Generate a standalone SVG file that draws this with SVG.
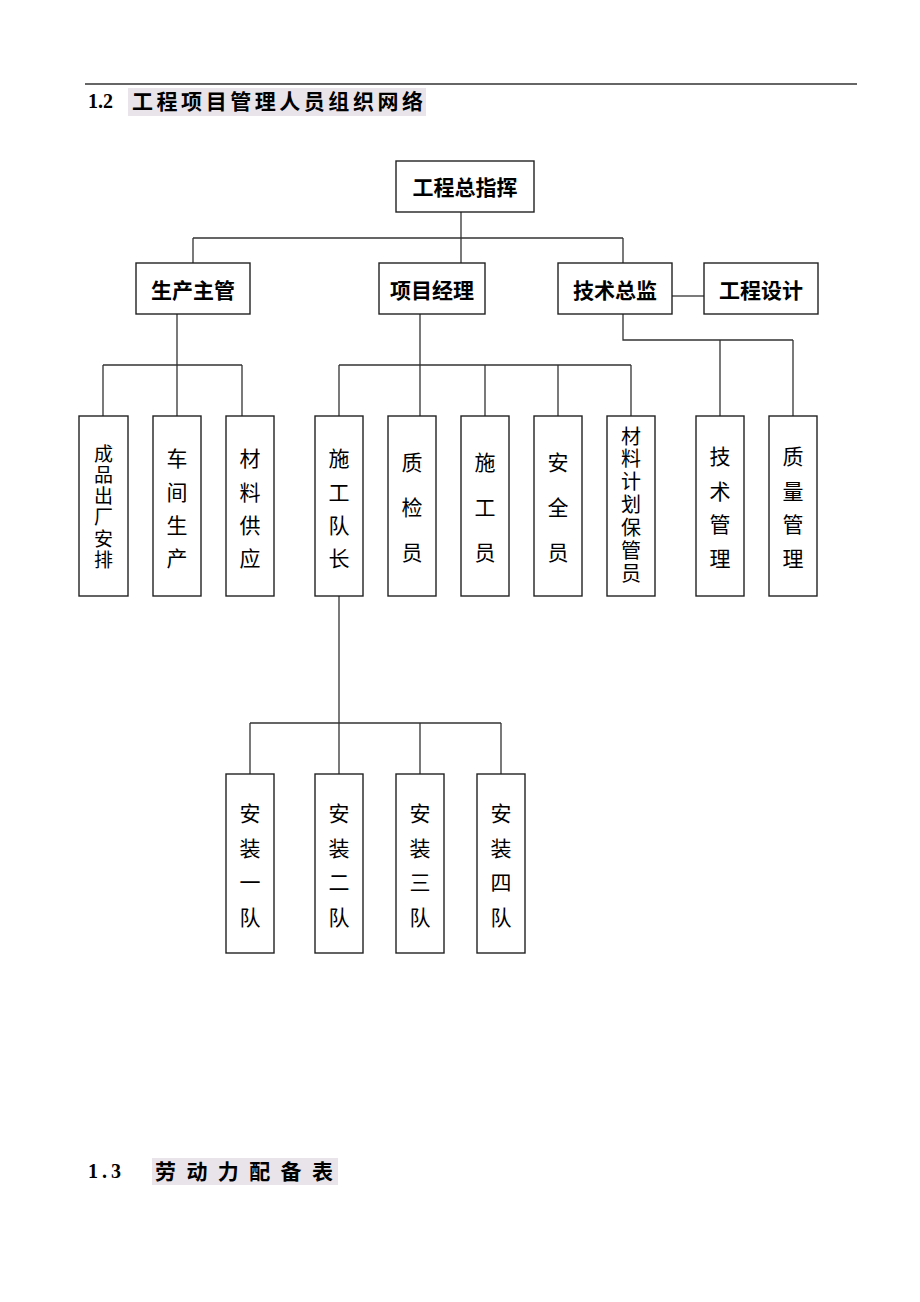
<svg xmlns="http://www.w3.org/2000/svg" width="920" height="1302" viewBox="0 0 920 1302">
<style>
.box{fill:#fff;stroke:#222;stroke-width:1.4}
.ln{fill:none;stroke:#333;stroke-width:1.3}
.h{font-family:"Noto Sans CJK SC","Noto Sans",sans-serif;font-weight:bold;font-size:21px;fill:#000;text-anchor:middle;dominant-baseline:central}
.v{font-family:"Noto Sans CJK SC","Noto Sans",sans-serif;font-size:21px;fill:#000;text-anchor:middle;dominant-baseline:central}
.vt{font-family:"Noto Sans CJK SC","Noto Sans",sans-serif;fill:#000;writing-mode:vertical-rl;text-orientation:upright}
.num{font-family:"Liberation Serif",serif;font-weight:bold;font-size:20px;fill:#000}
.ttl{font-family:"Noto Sans CJK SC",sans-serif;font-weight:bold;font-size:21px;fill:#000}
.hl{fill:#e9e4ea}
</style>
<rect width="920" height="1302" fill="#fff"/>
<line x1="85" y1="84" x2="857" y2="84" stroke="#333" stroke-width="1.5"/>
<g id="heading-1-2">
<rect class="hl" x="128" y="88" width="298" height="28"/>
<text class="num" x="88" y="108">1.2</text>
<text class="ttl" x="132" y="109" textLength="291" lengthAdjust="spacing">工程项目管理人员组织网络</text>
</g>
<g id="connectors">
<path class="ln" d="M461 212V263M193 238H623M193 238V263M623 238V263"/>
<path class="ln" d="M672 296H704"/>
<path class="ln" d="M177 314V365M103 365H242M103 365V416M177 365V416M242 365V416"/>
<path class="ln" d="M420 314V365M339 365H631M339 365V416M420 365V416M485 365V416M558 365V416M631 365V416"/>
<path class="ln" d="M623 314V340H793M720 340V416M793 340V416"/>
<path class="ln" d="M339 596V774M250 723H501M250 723V774M420 723V774M501 723V774"/>
</g>
<g id="n-zongzhihui"><rect class="box" x="396" y="161" width="138" height="51"/><text class="h" x="465" y="186">工程总指挥</text></g>
<g id="n-shengchan"><rect class="box" x="136" y="263" width="114" height="51"/><text class="h" x="193" y="289">生产主管</text></g>
<g id="n-xiangmu"><rect class="box" x="379" y="263" width="106" height="51"/><text class="h" x="432" y="289">项目经理</text></g>
<g id="n-jishu"><rect class="box" x="558" y="263" width="114" height="51"/><text class="h" x="615" y="289">技术总监</text></g>
<g id="n-sheji"><rect class="box" x="704" y="263" width="114" height="51"/><text class="h" x="761" y="289">工程设计</text></g>

<g id="n-chengpin"><rect class="box" x="79" y="416" width="49" height="180"/><text class="vt" x="103.5" y="444" font-size="19" letter-spacing="2.2">成品出厂安排</text></g>
<g id="n-chejian"><rect class="box" x="153" y="416" width="48" height="180"/><text class="v"><tspan x="177" y="457">车</tspan><tspan x="177" y="491">间</tspan><tspan x="177" y="524">生</tspan><tspan x="177" y="557">产</tspan></text></g>
<g id="n-cailiao"><rect class="box" x="226" y="416" width="48" height="180"/><text class="v"><tspan x="250" y="457">材</tspan><tspan x="250" y="491">料</tspan><tspan x="250" y="524">供</tspan><tspan x="250" y="557">应</tspan></text></g>
<g id="n-duizhang"><rect class="box" x="315" y="416" width="48" height="180"/><text class="v"><tspan x="339" y="457">施</tspan><tspan x="339" y="491">工</tspan><tspan x="339" y="524">队</tspan><tspan x="339" y="557">长</tspan></text></g>
<g id="n-zhijian"><rect class="box" x="388" y="416" width="48" height="180"/><text class="v"><tspan x="412" y="461">质</tspan><tspan x="412" y="506">检</tspan><tspan x="412" y="551">员</tspan></text></g>
<g id="n-shigong"><rect class="box" x="461" y="416" width="48" height="180"/><text class="v"><tspan x="485" y="461">施</tspan><tspan x="485" y="506">工</tspan><tspan x="485" y="551">员</tspan></text></g>
<g id="n-anquan"><rect class="box" x="534" y="416" width="48" height="180"/><text class="v"><tspan x="558" y="461">安</tspan><tspan x="558" y="506">全</tspan><tspan x="558" y="551">员</tspan></text></g>
<g id="n-baoguan"><rect class="box" x="607" y="416" width="48" height="180"/><text class="vt" x="631" y="426" font-size="20" letter-spacing="2.9">材料计划保管员</text></g>
<g id="n-jishuguanli"><rect class="box" x="696" y="416" width="48" height="180"/><text class="v"><tspan x="720" y="455">技</tspan><tspan x="720" y="490">术</tspan><tspan x="720" y="523">管</tspan><tspan x="720" y="557">理</tspan></text></g>
<g id="n-zhiliang"><rect class="box" x="769" y="416" width="48" height="180"/><text class="v"><tspan x="793" y="455">质</tspan><tspan x="793" y="490">量</tspan><tspan x="793" y="523">管</tspan><tspan x="793" y="557">理</tspan></text></g>

<g id="n-an1"><rect class="box" x="226" y="774" width="48" height="179"/><text class="v"><tspan x="250" y="812">安</tspan><tspan x="250" y="847">装</tspan><tspan x="250" y="881">一</tspan><tspan x="250" y="916">队</tspan></text></g>
<g id="n-an2"><rect class="box" x="315" y="774" width="48" height="179"/><text class="v"><tspan x="339" y="812">安</tspan><tspan x="339" y="847">装</tspan><tspan x="339" y="881">二</tspan><tspan x="339" y="916">队</tspan></text></g>
<g id="n-an3"><rect class="box" x="396" y="774" width="48" height="179"/><text class="v"><tspan x="420" y="812">安</tspan><tspan x="420" y="847">装</tspan><tspan x="420" y="881">三</tspan><tspan x="420" y="916">队</tspan></text></g>
<g id="n-an4"><rect class="box" x="477" y="774" width="48" height="179"/><text class="v"><tspan x="501" y="812">安</tspan><tspan x="501" y="847">装</tspan><tspan x="501" y="881">四</tspan><tspan x="501" y="916">队</tspan></text></g>

<g id="heading-1-3">
<rect class="hl" x="152" y="1158" width="186" height="27"/>
<text class="num" x="88" y="1178" font-size="21" letter-spacing="4">1.3</text>
<text class="ttl" x="155" y="1179" textLength="178" lengthAdjust="spacing">劳动力配备表</text>
</g>
</svg>
